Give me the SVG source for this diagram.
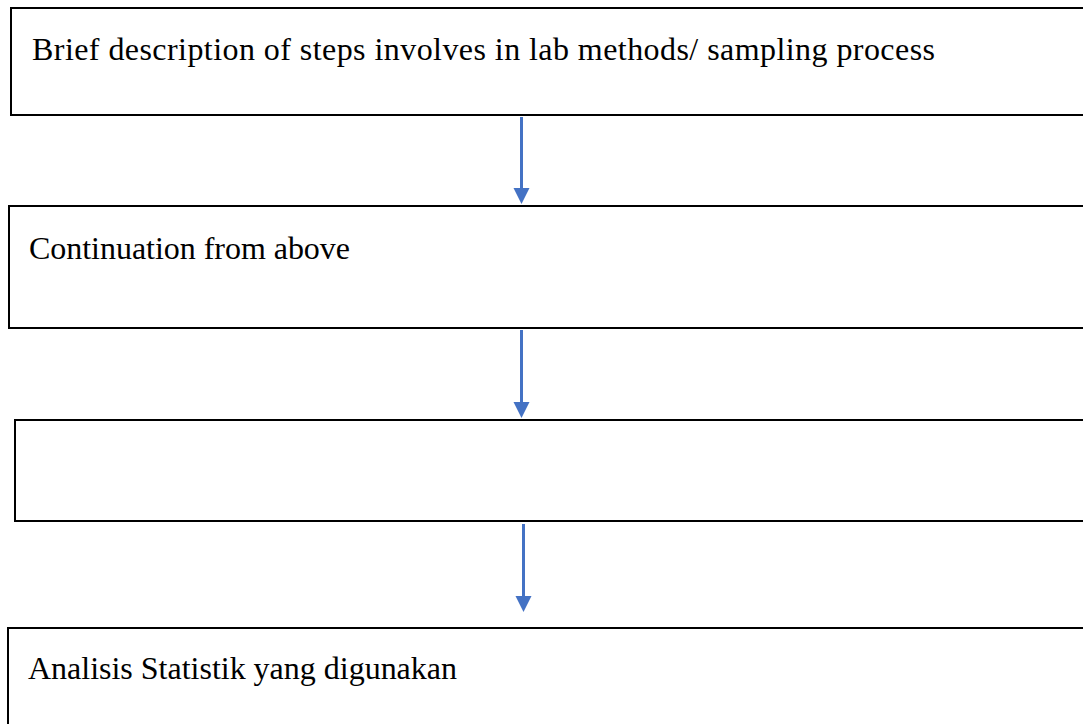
<svg xmlns="http://www.w3.org/2000/svg" width="1083" height="724" viewBox="0 0 1083 724">
<style>
.box{fill:#fff;stroke:#000;stroke-width:2}
.lbl{font-family:"Liberation Serif","Times New Roman",serif;font-size:32px;fill:#000}
.con{stroke:#4472C4;stroke-width:3;fill:none}
.head{fill:#4472C4}
</style>
<rect width="1083" height="724" fill="#fff"/>
<g id="n1"><rect class="box" x="11" y="8" width="1090" height="107"/><text class="lbl" x="32" y="60" textLength="903" lengthAdjust="spacing">Brief description of steps involves in lab methods/ sampling process</text></g>
<g id="n2"><rect class="box" x="9" y="206" width="1090" height="122"/><text class="lbl" x="29" y="259" textLength="321" lengthAdjust="spacing">Continuation from above</text></g>
<g id="n3"><rect class="box" x="15" y="420" width="1090" height="101"/></g>
<g id="n4"><rect class="box" x="8" y="628" width="1090" height="120"/><text class="lbl" x="28" y="679" textLength="429" lengthAdjust="spacing">Analisis Statistik yang digunakan</text></g>
<g id="connectors">
<line class="con" x1="521.5" y1="117" x2="521.5" y2="190"/>
<path class="head" d="M513.5,188 L529.5,188 L521.5,204 z"/>
<line class="con" x1="521.5" y1="330" x2="521.5" y2="404"/>
<path class="head" d="M513.5,402 L529.5,402 L521.5,418 z"/>
<line class="con" x1="523.5" y1="524" x2="523.5" y2="598"/>
<path class="head" d="M515.5,596 L531.5,596 L523.5,612 z"/>
</g>
</svg>
